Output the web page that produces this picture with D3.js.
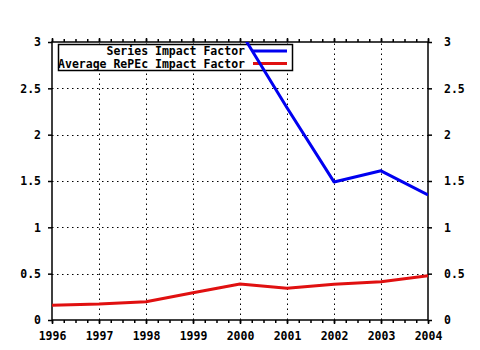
<!DOCTYPE html>
<html>
<head>
<meta charset="utf-8">
<script src="https://cdn.jsdelivr.net/npm/d3@7"></script>
<style>
  html, body { margin: 0; padding: 0; background: #fff; }
  svg { display: block; }
  text { font-family: "DejaVu Sans Mono", monospace; font-weight: bold; font-size: 11.5px; fill: #000; }
</style>
</head>
<body>
<script>
// Impact factor by year
const years = [1996, 1997, 1998, 1999, 2000, 2001, 2002, 2003, 2004];
const seriesImpact = [null, null, null, null, 3.12, 2.29, 1.49, 1.61, 1.35];
const averageImpact = [0.158, 0.172, 0.198, 0.295, 0.388, 0.342, 0.385, 0.413, 0.478];
const yTicks = [0, 0.5, 1, 1.5, 2, 2.5, 3];
const legendLabels = ["Series Impact Factor", "Average RePEc Impact Factor"];
const colors = ["#0000f0", "#e01010"];

const W = 480, H = 350;
const plotL = 52, plotR = 428, plotT = 42, plotB = 320;

const svg = d3.select("body").append("svg").attr("width", W).attr("height", H);

const x = d3.scaleLinear().domain([1996, 2004]).range([plotL, plotR]);
const y = d3.scaleLinear().domain([0, 3]).range([plotB, plotT]);

svg.append("defs").append("clipPath").attr("id", "plot")
  .append("rect").attr("x", plotL).attr("y", plotT).attr("width", plotR - plotL).attr("height", plotB - plotT);

// dotted grid
const grid = svg.append("g").attr("stroke", "#000").attr("stroke-width", 1).attr("stroke-dasharray", "1.5,3.5");
grid.selectAll("line.v").data(years.slice(1, -1)).join("line")
  .attr("x1", d => Math.round(x(d)) + 0.5).attr("x2", d => Math.round(x(d)) + 0.5)
  .attr("y1", plotB).attr("y2", plotT);
grid.selectAll("line.h").data(yTicks.slice(1, -1)).join("line")
  .attr("y1", d => Math.round(y(d)) + 0.5).attr("y2", d => Math.round(y(d)) + 0.5)
  .attr("x1", plotL).attr("x2", plotR);

// axes
const minor = d3.range(1996, 2004.001, 0.25);
const axisStyle = g => {
  g.select(".domain").remove();
  g.selectAll(".tick line").attr("stroke", "#000").attr("stroke-width", 1.5);
  g.selectAll(".tick text").style("font-family", "DejaVu Sans Mono").style("font-weight", "bold").style("font-size", "11.5px");
};
svg.append("g").attr("transform", `translate(0,${plotB})`)
  .call(d3.axisBottom(x).tickValues(minor).tickSize(3).tickFormat(""))
  .call(axisStyle);
svg.append("g").attr("transform", `translate(0,${plotB})`)
  .call(d3.axisBottom(x).tickValues(years).tickSize(4).tickPadding(8).tickFormat(d3.format("d")))
  .call(axisStyle);
svg.append("g").attr("transform", `translate(0,${plotT})`)
  .call(d3.axisTop(x).tickValues(minor).tickSize(3).tickFormat(""))
  .call(axisStyle);
svg.append("g").attr("transform", `translate(0,${plotT})`)
  .call(d3.axisTop(x).tickValues(years).tickSize(4).tickFormat(""))
  .call(axisStyle);
svg.append("g").attr("transform", `translate(${plotL},0)`)
  .call(d3.axisLeft(y).tickValues(yTicks).tickSize(4).tickPadding(7).tickFormat(d3.format("")))
  .call(axisStyle);
svg.append("g").attr("transform", `translate(${plotR},0)`)
  .call(d3.axisRight(y).tickValues(yTicks).tickSize(4).tickPadding(12).tickFormat(d3.format("")))
  .call(axisStyle);

// frame
svg.append("rect").attr("x", plotL).attr("y", plotT).attr("width", plotR - plotL).attr("height", plotB - plotT)
  .attr("fill", "none").attr("stroke", "#000").attr("stroke-width", 1.5);

// legend box
const lg = svg.append("g");
lg.append("rect").attr("x", 58.5).attr("y", 44.5).attr("width", 234).attr("height", 26)
  .attr("fill", "#fff").attr("stroke", "#000").attr("stroke-width", 1.5);
legendLabels.forEach((t, i) => {
  const cy = 51 + i * 12.5;
  lg.append("text").attr("x", 245).attr("y", cy).attr("dy", "0.35em").attr("text-anchor", "end").text(t);
  lg.append("line").attr("x1", 253).attr("x2", 287).attr("y1", cy).attr("y2", cy)
    .attr("stroke", colors[i]).attr("stroke-width", 3);
});

// series lines
const line = d3.line()
  .defined(d => d[1] != null)
  .x(d => x(d[0])).y(d => y(d[1]));
const plot = svg.append("g").attr("clip-path", "url(#plot)");
[averageImpact, seriesImpact].forEach((vals, k) => {
  const c = k === 0 ? colors[1] : colors[0];
  plot.append("path").datum(years.map((yr, i) => [yr, vals[i]]))
    .attr("d", line).attr("fill", "none").attr("stroke", c).attr("stroke-width", 3)
    .attr("stroke-linejoin", "round");
});
</script>
</body>
</html>
